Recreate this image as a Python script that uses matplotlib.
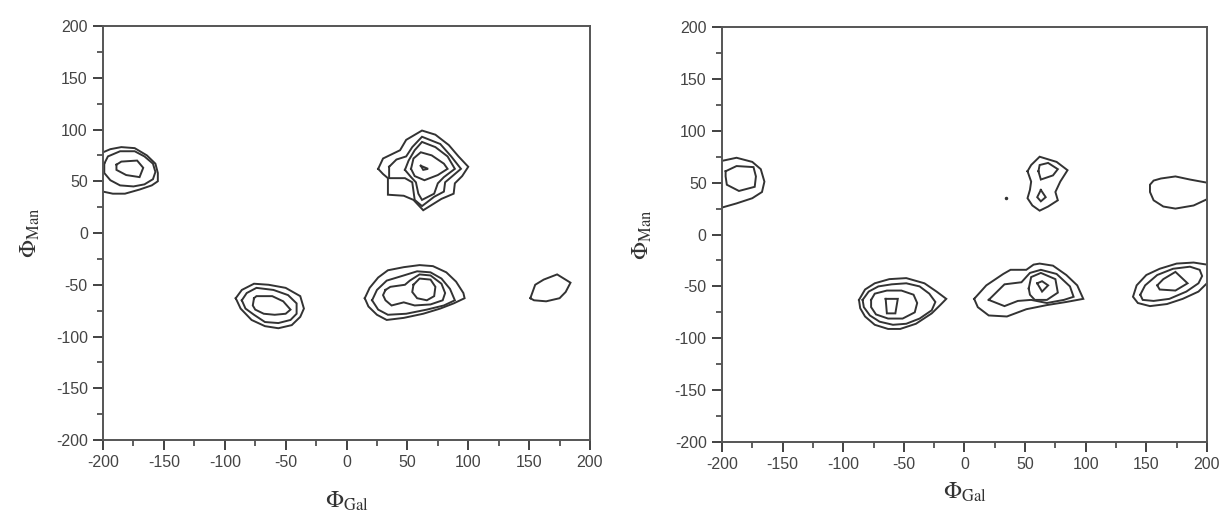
import matplotlib
matplotlib.use("Agg")
import matplotlib.pyplot as plt
from matplotlib.ticker import MultipleLocator

# ---------------- data (contour polygons) ----------------
# Left panel
left_A1 = [(-200, 78), (-194, 81), (-185, 83), (-174, 82), (-164, 75), (-157, 67), (-155, 58),
           (-155, 50), (-160, 46), (-170, 42), (-182, 38), (-192, 38), (-200, 40)]
left_A2 = [(-199, 67), (-196, 74), (-186, 79), (-174, 79), (-166, 74), (-159, 67), (-157, 59),
           (-159, 52), (-166, 47), (-175, 45), (-186, 46), (-194, 51), (-199, 58), (-199, 67)]
left_A3 = [(-189, 66), (-185, 69), (-172, 70), (-167, 63), (-170, 54), (-181, 56), (-189, 61), (-189, 66)]

left_B1 = [(26, 62), (30, 72), (37, 76), (44, 80), (49, 90), (62, 99), (73, 95), (84, 85), (92, 74),
           (100, 64), (95, 55), (89, 48), (88, 38), (78, 33), (63, 22), (55, 32), (47, 36), (34, 37),
           (34, 45), (34, 53), (30, 57), (26, 62)]
left_B2 = [(35, 64), (41, 71), (49, 74), (54, 83), (62, 93), (77, 86), (86, 74), (94, 62), (86, 54),
           (81, 49), (80, 40), (72, 35), (62, 26), (56, 32), (54, 49), (48, 53), (35, 53), (35, 64)]
left_B3 = [(48, 61), (51, 70), (56, 80), (62, 88), (73, 83), (83, 74), (89, 62), (80, 54), (75, 48),
           (72, 38), (62, 32), (59, 38), (57, 49), (53, 54), (48, 61)]
left_B4 = [(53, 62), (55, 72), (61, 78), (70, 75), (80, 67), (83, 62), (75, 56), (64, 51), (56, 55), (53, 62)]
left_B5 = [(61, 65), (67, 62), (63, 61), (61, 65)]

left_C1 = [(-91, -63), (-86, -55), (-76, -49), (-64, -50), (-50, -53), (-38, -61), (-35, -73),
           (-38, -81), (-45, -89), (-56, -92), (-67, -90), (-78, -84), (-87, -73), (-91, -63)]
left_C2 = [(-86, -65), (-82, -58), (-74, -53), (-60, -55), (-48, -60), (-41, -68), (-41, -78),
           (-46, -84), (-56, -87), (-67, -86), (-76, -79), (-83, -73), (-86, -65)]
left_C3 = [(-76, -63), (-74, -61), (-61, -61), (-52, -66), (-46, -74), (-50, -78), (-59, -79),
           (-68, -78), (-75, -74), (-77, -70), (-76, -63)]

left_D1 = [(15, -63), (19, -53), (26, -43), (34, -36), (47, -33), (60, -31), (71, -32), (82, -38),
           (90, -47), (96, -58), (97, -63), (88, -68), (77, -73), (63, -78), (47, -82), (33, -84),
           (25, -79), (18, -71), (15, -63)]
left_D2 = [(21, -65), (25, -55), (33, -46), (47, -41), (58, -37), (69, -38), (78, -44), (85, -54),
           (89, -65), (80, -70), (66, -74), (49, -78), (34, -79), (26, -74), (21, -65)]
left_D3 = [(32, -55), (36, -52), (48, -50), (52, -46), (60, -40), (69, -41), (78, -49), (81, -58),
           (79, -65), (69, -69), (56, -70), (47, -67), (37, -70), (32, -65), (30, -60), (32, -55)]
left_D4 = [(55, -50), (60, -44), (69, -45), (73, -52), (72, -61), (66, -65), (58, -63), (54, -57), (55, -50)]

left_E1 = [(151, -63), (155, -50), (162, -45), (173, -40), (184, -48), (180, -57), (175, -63),
           (164, -66), (154, -65), (151, -63)]

# Right panel
right_A1 = [(-200, 71), (-196, 72), (-188, 74), (-175, 70), (-168, 63), (-165, 51), (-167, 41),
            (-175, 35), (-188, 30), (-200, 26)]
right_A2 = [(-197, 61), (-188, 66), (-174, 65), (-172, 56), (-173, 46), (-186, 42), (-196, 48),
            (-197, 56), (-197, 61)]

right_B1 = [(52, 61), (55, 67), (62, 75), (76, 70), (85, 62), (79, 51), (75, 41), (77, 33), (69, 27),
            (62, 23), (56, 28), (52, 35), (54, 43), (55, 51), (52, 61)]
right_B2 = [(61, 61), (62, 67), (69, 69), (77, 63), (73, 57), (63, 53), (61, 61)]
right_B3 = [(63, 43), (60, 36), (63, 32), (67, 36), (63, 43)]
right_dot = [(34, 35)]

right_C1 = [(200, 50), (186, 53), (174, 56), (162, 54), (156, 52), (153, 48), (153, 41), (156, 33),
            (164, 27), (174, 25), (189, 28), (200, 34)]

right_D1 = [(-87, -63), (-82, -53), (-74, -47), (-62, -43), (-48, -42), (-33, -47), (-23, -55),
            (-15, -62), (-20, -68), (-27, -76), (-40, -86), (-53, -91), (-63, -91), (-74, -87),
            (-82, -79), (-86, -71), (-87, -63)]
right_D2 = [(-84, -63), (-79, -55), (-71, -50), (-60, -48), (-48, -47), (-37, -50), (-29, -57),
            (-24, -65), (-27, -73), (-37, -81), (-48, -86), (-59, -87), (-70, -84), (-78, -78),
            (-83, -70), (-84, -63)]
right_D3 = [(-77, -63), (-74, -57), (-64, -54), (-52, -54), (-42, -58), (-39, -66), (-41, -75),
            (-51, -81), (-63, -81), (-73, -77), (-77, -70), (-77, -63)]
right_D4 = [(-65, -62), (-55, -62), (-57, -76), (-64, -76), (-65, -62)]

right_E1 = [(8, -62), (18, -49), (32, -38), (38, -34), (51, -34), (57, -29), (62, -28), (73, -30),
            (84, -39), (93, -49), (98, -62), (84, -65), (68, -68), (51, -72), (35, -79), (20, -78),
            (11, -70), (8, -62)]
right_E2 = [(20, -63), (33, -48), (47, -46), (54, -37), (63, -34), (76, -38), (87, -50), (90, -60),
            (82, -63), (68, -66), (55, -63), (44, -64), (33, -69), (20, -63)]
right_E3 = [(53, -52), (55, -41), (63, -37), (75, -43), (77, -56), (68, -63), (58, -63), (54, -58), (53, -52)]
right_E4 = [(60, -47), (64, -45), (69, -49), (64, -55), (60, -47)]

right_F1 = [(200, -29), (189, -27), (175, -28), (161, -33), (150, -39), (142, -49), (139, -60),
            (143, -66), (153, -69), (167, -67), (180, -62), (193, -55), (200, -47)]
right_F2 = [(145, -58), (149, -49), (159, -39), (172, -33), (186, -31), (194, -34), (196, -40),
            (193, -47), (183, -55), (169, -62), (156, -64), (147, -63), (145, -58)]
right_F3 = [(159, -49), (164, -43), (174, -36), (184, -47), (174, -54), (161, -53), (159, -49)]

left_contours = [left_A1, left_A2, left_A3, left_B1, left_B2, left_B3, left_B4, left_B5,
                 left_C1, left_C2, left_C3, left_D1, left_D2, left_D3, left_D4, left_E1]
right_contours = [right_A1, right_A2, right_B1, right_B2, right_B3, right_C1,
                  right_D1, right_D2, right_D3, right_D4, right_E1, right_E2, right_E3, right_E4,
                  right_F1, right_F2, right_F3]

axis_min, axis_max = -200, 200
major_step, minor_step = 50, 25
x_label = r'$\Phi_{\mathrm{Gal}}$'
y_label = r'$\Phi_{\mathrm{Man}}$'

# ---------------- drawing ----------------
plt.rcParams['font.family'] = ['Liberation Sans', 'DejaVu Sans']
plt.rcParams['mathtext.fontset'] = 'stix'
plt.rcParams['axes.unicode_minus'] = False

fig = plt.figure(figsize=(12.21, 5.15), dpi=100)
ax_l = fig.add_axes([0.0844, 0.1456, 0.3988, 0.8039])
ax_r = fig.add_axes([0.5913, 0.1417, 0.3972, 0.8058])

line_col = '#333333'
text_col = '#444444'

for ax, contours, xpad in ((ax_l, left_contours, 14), (ax_r, right_contours, 6)):
    for poly in contours:
        xs = [p[0] for p in poly]
        ys = [p[1] for p in poly]
        ax.plot(xs, ys, color=line_col, lw=1.4, solid_joinstyle='miter')
    ax.set_xlim(axis_min, axis_max)
    ax.set_ylim(axis_min, axis_max)
    ax.xaxis.set_major_locator(MultipleLocator(major_step))
    ax.yaxis.set_major_locator(MultipleLocator(major_step))
    ax.xaxis.set_minor_locator(MultipleLocator(minor_step))
    ax.yaxis.set_minor_locator(MultipleLocator(minor_step))
    ax.tick_params(which='major', direction='out', length=7, width=1.3, colors='#333333',
                   labelcolor=text_col, labelsize=11.5, pad=4)
    ax.tick_params(which='minor', direction='out', length=4, width=1.1, colors='#333333')
    for s in ax.spines.values():
        s.set_color('#555555')
        s.set_linewidth(1.4)
    ax.set_xlabel(x_label, fontsize=17, color='#333333', labelpad=xpad)
    ax.set_ylabel(y_label, fontsize=17, color='#333333')

ax_r.plot([p[0] for p in right_dot], [p[1] for p in right_dot], marker='o', ms=1.5,
          color=line_col, ls='none')

ax_l.yaxis.set_label_coords(-0.125, 0.5)
ax_r.yaxis.set_label_coords(-0.14, 0.5)

fig.savefig('out.png', dpi=100)
